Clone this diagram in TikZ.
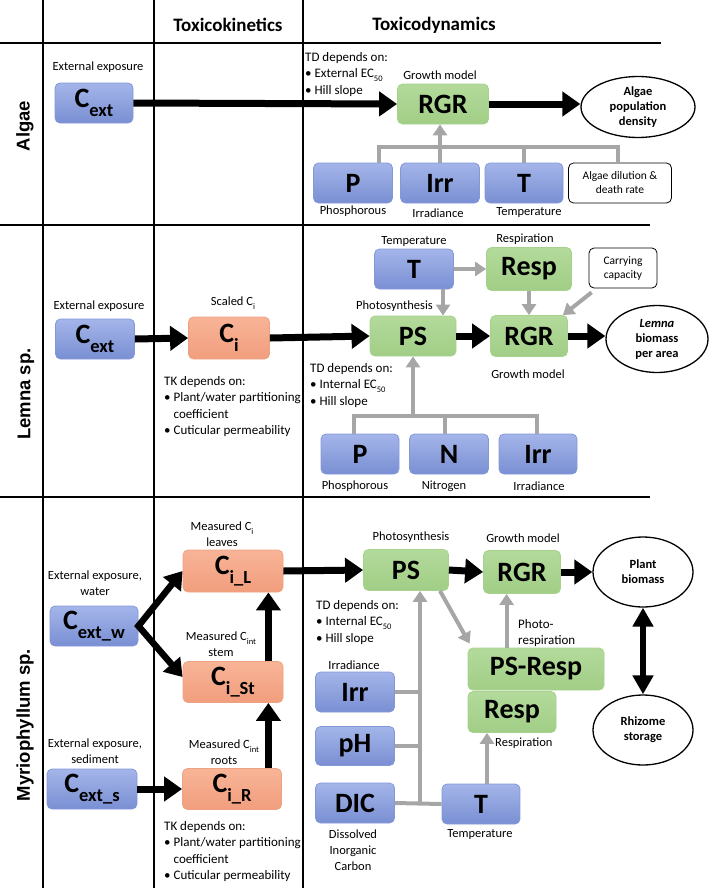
\documentclass[tikz,border=0pt]{standalone}
\usepackage{fontspec}
\setmainfont{Carlito}
\newfontfamily\rowfont{Liberation Sans}
\usetikzlibrary{arrows.meta,shapes.geometric,calc}
\definecolor{bluetop}{HTML}{A3B5E9}
\definecolor{bluebot}{HTML}{7A8FD3}
\definecolor{bluedraw}{HTML}{8498D8}
\definecolor{greentop}{HTML}{B3DA9B}
\definecolor{greenbot}{HTML}{A1CE86}
\definecolor{greendraw}{HTML}{A6D28E}
\definecolor{orangetop}{HTML}{F8B497}
\definecolor{orangebot}{HTML}{F19E7D}
\definecolor{orangedraw}{HTML}{EFA281}
\definecolor{arrowgray}{HTML}{A6A6A6}
\newcommand\sbs[1]{\raisebox{-0.3em}{\fontsize{8.5}{8.5}\selectfont #1}}
\newcommand\bsub[1]{\raisebox{-0.33em}{\fontsize{18.5}{18.5}\selectfont #1}}
\newcommand\smallf{\fontsize{12.5}{16}\selectfont}
\newcommand\listf{\fontsize{13}{16.5}\selectfont}
\begin{document}
\begin{tikzpicture}[x=1pt,y=-1pt,
  bxbase/.style={rounded corners=5pt, inner sep=0pt, line width=0.8pt, font=\bfseries\fontsize{28}{28}\selectfont},
  bluebox/.style={bxbase, draw=bluedraw, top color=bluetop, bottom color=bluebot},
  greenbox/.style={bxbase, draw=greendraw, top color=greentop, bottom color=greenbot},
  orangebox/.style={bxbase, draw=orangedraw, top color=orangetop, bottom color=orangebot},
  wbox/.style={rounded corners=5pt, draw=black, line width=0.8pt, fill=white, inner sep=0pt, align=center, font=\fontsize{11.5}{14}\selectfont},
  ell/.style={ellipse, draw=black, line width=1.3pt, inner sep=0pt, align=center, font=\bfseries\fontsize{12.5}{15}\selectfont},
  lbl/.style={inner sep=0pt, font=\smallf, align=center},
  lst/.style={inner sep=0pt, font=\listf, align=left, anchor=north west},
  gridline/.style={line width=1.8pt},
  blk/.style={line width=7pt, -{Triangle[length=18pt,width=24pt]}},
  blkv/.style={line width=6.5pt, line join=miter, {Triangle[length=17pt,width=22pt]}-{Triangle[length=17pt,width=22pt]}},
  blkbi/.style={line width=6pt, {Triangle[length=19pt,width=20pt]}-{Triangle[length=19pt,width=20pt]}},
  gry/.style={draw=arrowgray, line width=4pt},
  gryarr/.style={gry, -{Triangle[length=11pt,width=14pt]}},
  hdr/.style={font=\bfseries\fontsize{19}{21}\selectfont, inner sep=0pt},
  rowlbl/.style={font=\rowfont\bfseries\fontsize{18.5}{20}\selectfont, rotate=90, inner sep=0pt}]
\useasboundingbox (0,0) rectangle (709,891);
% grid
\draw[gridline] (43,0) -- (43,888);
\draw[gridline] (154,0) -- (154,888);
\draw[gridline] (303,0) -- (303,888);
\draw[gridline] (0,43) -- (661,43);
\draw[gridline] (0,225) -- (650,225);
\draw[gridline] (0,497) -- (650,497);
\node[hdr] (hTK) at (228,25) {Toxicokinetics};
\node[hdr] (hTD) at (434,25) {Toxicodynamics};
\node[rowlbl] (rA) at (25,126) {Algae};
\node[rowlbl] (rL) at (26,394) {Lemna sp.};
\node[rowlbl] (rM) at (25,725) {Myriophyllum sp.};
% ---------------- Algae
\node[lbl] (extA) at (98,67) {External exposure};
\node[bluebox, minimum width=78pt, minimum height=40pt] (CextA) at (94,103) {C\bsub{ext}};
\node[lst] (tdA) at (305,52) {TD depends on:\\\textbullet\ External EC\sbs{50}\\\textbullet\ Hill slope};
\node[lbl] (gmA) at (440,75) {Growth model};
\node[greenbox, minimum width=91pt, minimum height=40pt] (RGRA) at (443,104) {RGR};
\node[ell, minimum width=114pt, minimum height=61pt] (popA) at (638,107) {Algae\\population\\density};
\node[bluebox, minimum width=79pt, minimum height=40pt] (PA) at (353,183) {P};
\node[bluebox, minimum width=79pt, minimum height=40pt] (IrrA) at (440,183) {Irr};
\node[bluebox, minimum width=78pt, minimum height=40pt] (TA) at (524,183) {T};
\node[wbox, minimum width=103pt, minimum height=40pt] (dilA) at (620,183) {Algae dilution \&\\death rate};
\node[lbl] (phA) at (353,211) {Phosphorous};
\node[lbl] (irA) at (438,213) {Irradiance};
\node[lbl] (teA) at (529,212) {Temperature};
\coordinate (abar) at (0,147);
\draw[blk] (CextA.east) -- (RGRA.west);
\draw[blk] (RGRA.east) -- (RGRA.east -| popA.west);
\draw[gry] ([xshift=26pt]PA.north) -- ([xshift=26pt]PA.north |- abar) -- ([xshift=-2pt]dilA.north |- abar) -- ([xshift=-2pt]dilA.north);
\draw[gry] (TA.north) -- (TA.north |- abar);
\draw[gryarr] (IrrA.north) -- (IrrA.north |- RGRA.south);
% ---------------- Lemna
\node[lbl] (extL) at (99,306) {External exposure};
\node[bluebox, minimum width=79pt, minimum height=40pt] (CextL) at (95,339) {C\bsub{ext}};
\node[lbl] (scL) at (233,303) {Scaled C\sbs{i}};
\node[orangebox, minimum width=81pt, minimum height=42pt] (CiL) at (229,338) {C\bsub{i}};
\node[lst] (tkL) at (164,376) {TK depends on:\\\textbullet\ Plant/water partitioning\\\hphantom{\textbullet\ }coefficient\\\textbullet\ Cuticular permeability};
\node[lbl] (tempL) at (414,241) {Temperature};
\node[bluebox, minimum width=79pt, minimum height=40pt] (TL) at (414,269) {T};
\node[lbl] (respLl) at (525,239) {Respiration};
\node[greenbox, minimum width=85pt, minimum height=43pt] (RespL) at (529,269) {Resp};
\node[wbox, minimum width=68pt, minimum height=40pt] (carL) at (623,268) {Carrying\\capacity};
\node[lbl, anchor=east] (psLl) at (433,306) {Photosynthesis};
\node[greenbox, minimum width=86pt, minimum height=40pt] (PSL) at (413,336) {PS};
\node[greenbox, minimum width=77pt, minimum height=41pt] (RGRL) at (529,336) {RGR};
\node[ell, minimum width=102pt, minimum height=67pt] (bioL) at (657,339) {\textit{Lemna}\\biomass\\per area};
\node[lbl] (gmL) at (528,374) {Growth model};
\node[lst] (tdL) at (310,363) {TD depends on:\\\textbullet\ Internal EC\sbs{50}\\\textbullet\ Hill slope};
\node[bluebox, minimum width=78pt, minimum height=40pt] (PL) at (360,454) {P};
\node[bluebox, minimum width=79pt, minimum height=40pt] (NL) at (449,454) {N};
\node[bluebox, minimum width=78pt, minimum height=40pt] (IrrL) at (538,454) {Irr};
\node[lbl] (phL) at (355,486) {Phosphorous};
\node[lbl] (niL) at (444,486) {Nitrogen};
\node[lbl] (irL) at (539,486) {Irradiance};
\coordinate (lbar) at (0,416);
\draw[blk] (CextL.east) -- (CiL.west);
\draw[blk] (CiL.east) -- (PSL.west);
\draw[blk] (PSL.east) -- (RGRL.west);
\draw[blk] (RGRL.east) -- (RGRL.east -| bioL.west);
\draw[gryarr] (TL.east) -- (RespL.west);
\draw[gryarr] ([xshift=29pt]TL.south) -- ([xshift=29pt]TL.south |- PSL.north);
\draw[gryarr] (RespL.south) -- (RespL.south |- RGRL.north);
\draw[gryarr] ([xshift=3pt,yshift=-4pt]carL.south west) -- ([xshift=-5pt]RGRL.north east);
\draw[gry] ([xshift=-6pt]PL.north) -- ([xshift=-6pt]PL.north |- lbar) -- ([xshift=-1pt]IrrL.north |- lbar) -- ([xshift=-1pt]IrrL.north);
\draw[gry] ([xshift=-4pt]NL.north) -- ([xshift=-4pt]NL.north |- lbar);
\draw[gryarr] (PSL.south |- lbar) -- (PSL.south);
% ---------------- Myriophyllum
\node[lbl] (mcL) at (222,534) {Measured C\sbs{i}\\leaves};
\node[orangebox, minimum width=100pt, minimum height=42pt] (CiLm) at (233,571) {C\bsub{i\_L}};
\node[lbl] (extW) at (95,583) {External exposure,\\water};
\node[bluebox, minimum width=88pt, minimum height=40pt] (CextW) at (94,626) {C\bsub{ext\_w}};
\node[lbl] (mcSt) at (221,644) {Measured C\sbs{int}\\stem};
\node[orangebox, minimum width=100pt, minimum height=41pt] (CiSt) at (233,682) {C\bsub{i\_St}};
\node[lbl] (extS) at (95,751) {External exposure,\\sediment};
\node[bluebox, minimum width=90pt, minimum height=40pt] (CextS) at (92,789) {C\bsub{ext\_s}};
\node[lbl] (mcR) at (224,752) {Measured C\sbs{int}\\roots};
\node[orangebox, minimum width=99pt, minimum height=41pt] (CiR) at (232,789) {C\bsub{i\_R}};
\node[lst] (tkM) at (164,821) {TK depends on:\\\textbullet\ Plant/water partitioning\\\hphantom{\textbullet\ }coefficient\\\textbullet\ Cuticular permeability};
\node[lbl] (psMl) at (411,537) {Photosynthesis};
\node[greenbox, minimum width=85pt, minimum height=41pt] (PSM) at (406,570) {PS};
\node[lbl] (gmM) at (523,538) {Growth model};
\node[greenbox, minimum width=77pt, minimum height=43pt] (RGRM) at (522,572) {RGR};
\node[ell, minimum width=100pt, minimum height=70pt] (plM) at (643,572) {Plant\\biomass};
\node[lst] (tdM) at (316,600) {TD depends on:\\\textbullet\ Internal EC\sbs{50}\\\textbullet\ Hill slope};
\node[lst] (prM) at (518,619) {Photo-\\respiration};
\node[greenbox, minimum width=136pt, minimum height=42pt] (PSRM) at (536,669) {PS-Resp};
\node[greenbox, minimum width=88pt, minimum height=41pt] (RespM) at (512,712) {Resp};
\node[lbl, anchor=west] (respMl) at (495,743) {Respiration};
\node[ell, minimum width=100pt, minimum height=70pt] (rhM) at (643,730) {Rhizome\\storage};
\node[lbl] (irrMl) at (354,665) {Irradiance};
\node[bluebox, minimum width=79pt, minimum height=40pt] (IrrM) at (355,692) {Irr};
\node[bluebox, minimum width=79pt, minimum height=39pt] (pHM) at (355,746) {pH};
\node[bluebox, minimum width=79pt, minimum height=40pt] (DICM) at (355,803) {DIC};
\node[bluebox, minimum width=78pt, minimum height=40pt] (TM) at (481,804) {T};
\node[lbl] (tMl) at (480,834) {Temperature};
\node[lbl] (dicMl) at (353,850) {Dissolved\\Inorganic\\Carbon};
\coordinate (jx) at (420,700);
\draw[blkv] (CiLm.west) -- (CextW.east) -- ([yshift=5pt]CiSt.west);
\draw[blk] ([xshift=-15pt]CiSt.north east) -- ([xshift=-15pt]CiLm.south east);
\draw[blk] ([xshift=-15pt]CiSt.south east |- CiR.north) -- ([xshift=-15pt]CiSt.south east);
\draw[blk] (CextS.east) -- (CiR.west);
\draw[blk] (CiLm.east) -- (PSM.west);
\draw[blk] (PSM.east) -- (RGRM.west);
\draw[blk] (RGRM.east) -- (RGRM.east -| plM.west);
\draw[blkbi] (plM.south) -- (rhM.north);
\draw[gry] (IrrM.east) -- (IrrM.east -| jx);
\draw[gry] (pHM.east) -- (pHM.east -| jx);
\draw[gry] (DICM.east) -- (TM.west);
\draw[gryarr] (DICM.east -| jx) -- (jx |- PSM.south);
\draw[gryarr] ([xshift=34pt]PSM.south) -- ([xshift=2pt,yshift=4pt]PSRM.north west);
\draw[gryarr] ([xshift=39pt]PSRM.north west) -- ([xshift=39pt]PSRM.north west |- RGRM.south);
\draw[gryarr] ([xshift=6pt]TM.north) -- ([xshift=6pt]TM.north |- RespM.south);
\end{tikzpicture}
\end{document}
